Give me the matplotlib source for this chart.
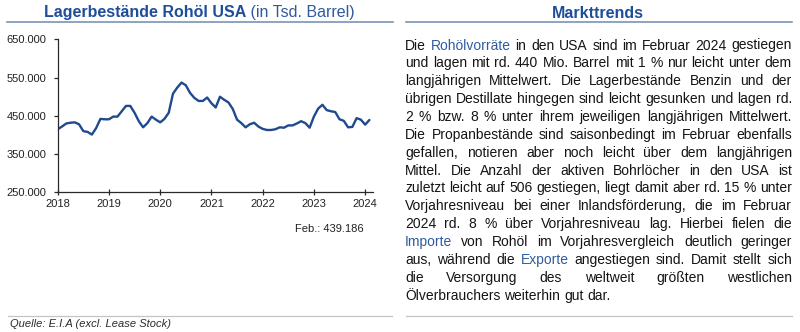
import matplotlib
matplotlib.use("Agg")
import matplotlib.pyplot as plt
from matplotlib.lines import Line2D
from matplotlib.ticker import FuncFormatter, FixedLocator

plt.rcParams['font.family'] = ['Liberation Sans', 'DejaVu Sans']

# Monthly US crude oil stocks (Tsd. Barrel), Jan 2018 .. Feb 2024
month_index = list(range(74))
crude_stocks = [
    415000, 422000, 430000, 432000, 433000, 428000, 410000, 408000, 401000, 418000, 442000, 441000,  # 2018
    441000, 448000, 448000, 462000, 476000, 476000, 458000, 436000, 420000, 431000, 448000, 440000,  # 2019
    433000, 442000, 458000, 508000, 524000, 537000, 530000, 510000, 497000, 489000, 489000, 498000,  # 2020
    483000, 472000, 500000, 492000, 485000, 468000, 440000, 431000, 420000, 428000, 432000, 422000,  # 2021
    416000, 413000, 413000, 415000, 420000, 419000, 425000, 425000, 430000, 436000, 431000, 419000,  # 2022
    448000, 469000, 479000, 465000, 462000, 460000, 441000, 437000, 420000, 421000, 444000, 440000,  # 2023
    427000, 439186,                                                                                  # 2024
]
year_ticks = [0, 12, 24, 36, 48, 60, 72]
year_labels = ['2018', '2019', '2020', '2021', '2022', '2023', '2024']
y_ticks = [250000, 350000, 450000, 550000, 650000]

chart_title_bold = 'Lagerbestände Rohöl USA'
chart_title_unit = ' (in Tsd. Barrel)'
last_label = 'Feb.: 439.186'
source_note = 'Quelle: E.I.A (excl. Lease Stock)'
panel_title = 'Markttrends'

text_lines = [
    "Die Rohölvorräte in den USA sind im Februar 2024 gestiegen",
    "und lagen mit rd. 440 Mio. Barrel mit 1 % nur leicht unter dem",
    "langjährigen Mittelwert. Die Lagerbestände Benzin und der",
    "übrigen Destillate hingegen sind leicht gesunken und lagen rd.",
    "2 % bzw. 8 % unter ihrem jeweiligen langjährigen Mittelwert.",
    "Die Propanbestände sind saisonbedingt im Februar ebenfalls",
    "gefallen, notieren aber noch leicht über dem langjährigen",
    "Mittel. Die Anzahl der aktiven Bohrlöcher in den USA ist",
    "zuletzt leicht auf 506 gestiegen, liegt damit aber rd. 15 % unter",
    "Vorjahresniveau bei einer Inlandsförderung, die im Februar",
    "2024 rd. 8 % über Vorjahresniveau lag. Hierbei fielen die",
    "Importe von Rohöl im Vorjahresvergleich deutlich geringer",
    "aus, während die Exporte angestiegen sind. Damit stellt sich",
    "die Versorgung des weltweit größten westlichen",
    "Ölverbrauchers weiterhin gut dar.",
]
highlighted = {'Rohölvorräte', 'Importe', 'Exporte'}

W, H, DPI = 800, 332, 100
TITLE_BLUE = '#1F4E99'
UNIT_BLUE = '#2F5A9E'
LINK_BLUE = '#2F5CA0'
RULE_BLUE = '#6F8AB0'
RULE_GRAY = '#C4C4C4'
INK = '#141414'
LINE_BLUE = '#1F4A8F'

fig = plt.figure(figsize=(W / DPI, H / DPI), dpi=DPI)
fig.patch.set_facecolor('white')


def fx(px):
    return px / W


def fy(py):
    return 1 - py / H


renderer = fig.canvas.get_renderer()

# ---- chart panel ----
ax_left, ax_right, ax_top, ax_bottom = 57.7, 372.7, 39.4, 192.3
ax = fig.add_axes([fx(ax_left), fy(ax_bottom), fx(ax_right - ax_left),
                   (ax_bottom - ax_top) / H])
ax.plot(month_index, crude_stocks, color=LINE_BLUE, lw=1.7,
        solid_joinstyle='round', solid_capstyle='round')
ax.set_xlim(0, (ax_right - ax_left) / 4.27)
ax.set_ylim(250000, 650000)
ax.xaxis.set_major_locator(FixedLocator(year_ticks))
ax.set_xticklabels(year_labels)
ax.yaxis.set_major_locator(FixedLocator(y_ticks))
ax.yaxis.set_major_formatter(FuncFormatter(lambda v, p: f"{v:,.0f}".replace(',', '.')))
for side in ('top', 'right'):
    ax.spines[side].set_visible(False)
for side in ('left', 'bottom'):
    ax.spines[side].set_color('#2a2a2a')
    ax.spines[side].set_linewidth(0.9)
ax.tick_params(axis='y', direction='out', length=3, width=0.9, color='#2a2a2a',
               pad=5, labelsize=8, labelcolor='#222222')
ax.tick_params(axis='x', direction='inout', length=4, width=0.9, color='#2a2a2a',
               pad=2.5, labelsize=8, labelcolor='#222222')
ax.patch.set_alpha(0)

fig.text(fx(364), fy(229.3), last_label, fontsize=8, color='#222222',
         ha='right', va='center')

# chart title (bold part + unit), centered together
tb = fig.text(0, fy(13), chart_title_bold, fontsize=11.5, fontweight='bold',
              color=TITLE_BLUE, ha='left', va='center')
tu = fig.text(0, fy(13), chart_title_unit, fontsize=11.5, color=UNIT_BLUE,
              ha='left', va='center')
wb = tb.get_window_extent(renderer).width
wu = tu.get_window_extent(renderer).width
start = 199 - (wb + wu) / 2
tb.set_x(fx(start))
tu.set_x(fx(start + wb))

fig.add_artist(Line2D([fx(7), fx(393)], [fy(21.7), fy(21.7)], color=RULE_BLUE, lw=1.1))
fig.add_artist(Line2D([fx(8), fx(392)], [fy(315.7), fy(315.7)], color=RULE_GRAY, lw=0.9))
fig.text(fx(10), fy(324.3), source_note, fontsize=8, style='italic',
         color='#2a2a2a', ha='left', va='center')

# ---- text panel ----
fig.text(fx(598), fy(13), panel_title, fontsize=11.5, fontweight='bold',
         color=TITLE_BLUE, ha='center', va='center')
fig.add_artist(Line2D([fx(406), fx(792)], [fy(21.7), fy(21.7)], color=RULE_BLUE, lw=1.1))
fig.add_artist(Line2D([fx(406), fx(792)], [fy(315.7), fy(315.7)], color=RULE_GRAY, lw=0.9))

txt_left, txt_right = 405.0, 792.0
line_y0, line_step = 45.0, 17.86
probe = fig.text(0, 0, 'a a', fontsize=10)
probe2 = fig.text(0, 0, 'aa', fontsize=10)
space_w = probe.get_window_extent(renderer).width - probe2.get_window_extent(renderer).width
probe.remove()
probe2.remove()

for i, line in enumerate(text_lines):
    words = line.split(' ')
    base = fy(line_y0 + i * line_step + 4.5)
    objs = []
    for w in words:
        col = LINK_BLUE if w.strip('.,') in highlighted else INK
        objs.append(fig.text(0, base, w, fontsize=10, color=col,
                             ha='left', va='baseline'))
    widths = [t.get_window_extent(renderer).width for t in objs]
    if i == len(text_lines) - 1 or len(words) == 1:
        gap = space_w
    else:
        gap = (txt_right - txt_left - sum(widths)) / (len(words) - 1)
    x = txt_left
    for t, wd in zip(objs, widths):
        t.set_x(fx(x))
        x += wd + gap

fig.savefig('out.png', dpi=DPI, facecolor='white')
